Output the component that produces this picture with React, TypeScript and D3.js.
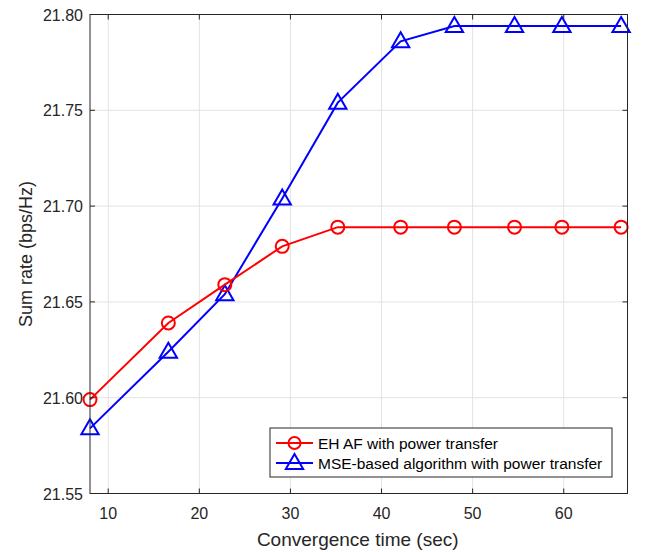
import { useEffect, useRef } from 'react';
import * as d3 from 'd3';

// Convergence time (sec) for each iteration
const timeEH = [8, 16.6, 22.8, 29.1, 35.2, 42.1, 48.0, 54.6, 59.8, 66.3];
const rateEH = [21.599, 21.639, 21.659, 21.679, 21.689, 21.689, 21.689, 21.689, 21.689, 21.689];
const timeMSE = [8, 16.6, 22.8, 29.1, 35.2, 42.1, 48.0, 54.6, 59.8, 66.3];
const rateMSE = [21.584, 21.624, 21.654, 21.704, 21.754, 21.786, 21.794, 21.794, 21.794, 21.794];

const xTicks = [10, 20, 30, 40, 50, 60];
const yTicks = [21.55, 21.6, 21.65, 21.7, 21.75, 21.8];
const seriesNames = ['EH AF with power transfer', 'MSE-based algorithm with power transfer'];

const FONT = 'Liberation Sans, Arial, Helvetica, sans-serif';

export default function App() {
  const svgRef = useRef<SVGSVGElement>(null);

  useEffect(() => {
    if (!svgRef.current) return;
    const svg = d3.select(svgRef.current);
    svg.selectAll('*').remove();

    const width = 646;
    const height = 552;
    const margin = { top: 14.5, right: 18.5, bottom: 58.5, left: 90 };
    const iw = width - margin.left - margin.right;
    const ih = height - margin.top - margin.bottom;

    const x = d3.scaleLinear().domain([8, 67]).range([0, iw]);
    const y = d3.scaleLinear().domain([21.55, 21.8]).range([ih, 0]);

    svg.append('rect').attr('width', width).attr('height', height).attr('fill', '#fff');

    const g = svg.append('g').attr('transform', `translate(${margin.left},${margin.top})`);

    // grid
    g.selectAll('.gx')
      .data(xTicks)
      .join('line')
      .attr('x1', d => x(d)).attr('x2', d => x(d))
      .attr('y1', 0).attr('y2', ih)
      .attr('stroke', '#e3e3e3').attr('stroke-width', 1);
    g.selectAll('.gy')
      .data(yTicks)
      .join('line')
      .attr('x1', 0).attr('x2', iw)
      .attr('y1', d => y(d)).attr('y2', d => y(d))
      .attr('stroke', '#e3e3e3').attr('stroke-width', 1);

    // series
    const line = d3.line<[number, number]>().x(d => x(d[0])).y(d => y(d[1]));
    const eh: [number, number][] = timeEH.map((t, i) => [t, rateEH[i]]);
    const mse: [number, number][] = timeMSE.map((t, i) => [t, rateMSE[i]]);

    const tri = d3.symbol().type(d3.symbolTriangle).size(130);

    g.append('path').datum(mse).attr('d', line).attr('fill', 'none')
      .attr('stroke', '#0000ff').attr('stroke-width', 2);
    g.selectAll('.tri')
      .data(mse)
      .join('path')
      .attr('d', tri)
      .attr('transform', d => `translate(${x(d[0])},${y(d[1]) + 1})`)
      .attr('fill', 'none').attr('stroke', '#0000ff').attr('stroke-width', 2);

    g.append('path').datum(eh).attr('d', line).attr('fill', 'none')
      .attr('stroke', '#ff0000').attr('stroke-width', 2);
    g.selectAll('.circ')
      .data(eh)
      .join('circle')
      .attr('cx', d => x(d[0])).attr('cy', d => y(d[1]))
      .attr('r', 6.5)
      .attr('fill', 'none').attr('stroke', '#ff0000').attr('stroke-width', 2);

    // axes box and ticks
    const axisColor = '#262626';
    g.append('rect').attr('width', iw).attr('height', ih)
      .attr('fill', 'none').attr('stroke', axisColor).attr('stroke-width', 1);
    const tl = 5;
    xTicks.forEach(t => {
      g.append('line').attr('x1', x(t)).attr('x2', x(t)).attr('y1', ih).attr('y2', ih - tl).attr('stroke', axisColor);
      g.append('line').attr('x1', x(t)).attr('x2', x(t)).attr('y1', 0).attr('y2', tl).attr('stroke', axisColor);
    });
    yTicks.forEach(t => {
      g.append('line').attr('x1', 0).attr('x2', tl).attr('y1', y(t)).attr('y2', y(t)).attr('stroke', axisColor);
      g.append('line').attr('x1', iw).attr('x2', iw - tl).attr('y1', y(t)).attr('y2', y(t)).attr('stroke', axisColor);
    });

    // tick labels
    g.selectAll('.xt')
      .data(xTicks)
      .join('text')
      .attr('x', d => x(d)).attr('y', ih + 25)
      .attr('text-anchor', 'middle')
      .attr('font-family', FONT).attr('font-size', 16).attr('fill', axisColor)
      .text(d => d);
    g.selectAll('.yt')
      .data(yTicks)
      .join('text')
      .attr('x', -7).attr('y', d => y(d) + 6)
      .attr('text-anchor', 'end')
      .attr('font-family', FONT).attr('font-size', 16).attr('fill', axisColor)
      .text(d => d.toFixed(2));

    // axis labels
    g.append('text')
      .attr('x', iw / 2 - 1).attr('y', ih + 52)
      .attr('text-anchor', 'middle')
      .attr('font-family', FONT).attr('font-size', 19).attr('fill', axisColor)
      .text('Convergence time (sec)');
    g.append('text')
      .attr('transform', `translate(${-58},${ih / 2}) rotate(-90)`)
      .attr('text-anchor', 'middle')
      .attr('font-family', FONT).attr('font-size', 18).attr('fill', axisColor)
      .text('Sum rate (bps/Hz)');

    // legend
    const lg = svg.append('g').attr('transform', 'translate(270,428)');
    lg.append('rect').attr('width', 342).attr('height', 49)
      .attr('fill', '#fff').attr('stroke', axisColor).attr('stroke-width', 1);
    const rows = [
      { name: seriesNames[0], color: '#ff0000', kind: 'circle' },
      { name: seriesNames[1], color: '#0000ff', kind: 'tri' },
    ];
    rows.forEach((r, i) => {
      const cy = 15 + i * 20;
      lg.append('line').attr('x1', 6).attr('x2', 43).attr('y1', cy).attr('y2', cy)
        .attr('stroke', r.color).attr('stroke-width', 2);
      if (r.kind === 'circle') {
        lg.append('circle').attr('cx', 24.5).attr('cy', cy).attr('r', 6)
          .attr('fill', 'none').attr('stroke', r.color).attr('stroke-width', 2);
      } else {
        lg.append('path').attr('d', tri).attr('transform', `translate(24.5,${cy + 1})`)
          .attr('fill', 'none').attr('stroke', r.color).attr('stroke-width', 2);
      }
      lg.append('text').attr('x', 48).attr('y', cy + 5.5)
        .attr('font-family', FONT).attr('font-size', 15.5).attr('fill', '#000')
        .text(r.name);
    });
  }, []);

  return <svg ref={svgRef} width={646} height={552} style={{ display: 'block', position: 'absolute', left: 0, top: 0 }} />;
}
